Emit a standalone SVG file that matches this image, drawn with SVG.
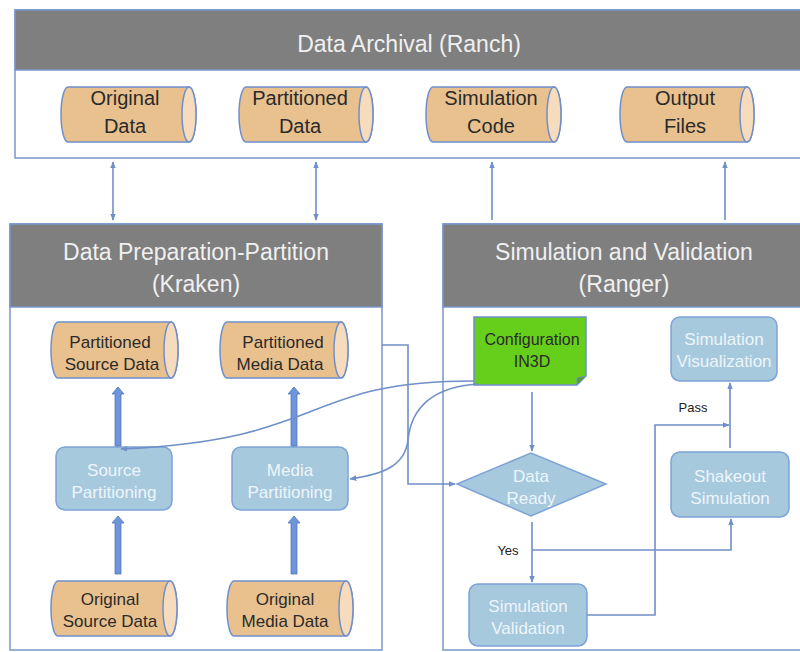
<svg xmlns="http://www.w3.org/2000/svg" width="800" height="652" viewBox="0 0 800 652">
<defs>
<style>
.panel{fill:#fff;stroke:#7896cc;stroke-width:1.5}
.hdr{fill:#7f7f7f;stroke:#7896cc;stroke-width:1.5}
.ttl{font-family:"Liberation Sans",Arial,sans-serif;font-size:23px;fill:#f0f0f0;text-anchor:middle}
.cyl{fill:#e9c18f;stroke:#6f8fcb;stroke-width:1.5}
.cap{fill:#f6dcbd;stroke:#6f8fcb;stroke-width:1.5}
.ct{font-family:"Liberation Sans",Arial,sans-serif;fill:#2a2a2a;text-anchor:middle}
.box{fill:#a6c9de;stroke:#7ea3d6;stroke-width:1.5}
.bt{font-family:"Liberation Sans",Arial,sans-serif;font-size:17px;fill:#eef5fa;text-anchor:middle}
.con{fill:none;stroke:#6f8fc8;stroke-width:1.6}
.thick{fill:#6f95d8;stroke:#5077c2;stroke-width:0.8}
.lbl{font-family:"Liberation Sans",Arial,sans-serif;font-size:13px;fill:#222;text-anchor:middle}
</style>
<marker id="ah" viewBox="0 0 10 10" refX="9" refY="5" markerWidth="7" markerHeight="7" orient="auto-start-reverse" markerUnits="userSpaceOnUse">
<path d="M0,1 L10,5 L0,9 Z" fill="#6f8fc8"/>
</marker>
</defs>

<g id="panel-ranch">
<rect class="panel" x="15" y="10" width="790" height="148"/>
<rect class="hdr" x="15" y="10" width="790" height="60"/>
<text class="ttl" x="409" y="52">Data Archival (Ranch)</text>
</g>
<g id="panel-kraken">
<rect class="panel" x="10" y="224" width="372" height="426"/>
<rect class="hdr" x="10" y="224" width="372" height="83"/>
<text class="ttl" x="196" y="260">Data Preparation-Partition</text>
<text class="ttl" x="196" y="292">(Kraken)</text>
</g>
<g id="panel-ranger">
<rect class="panel" x="443" y="224" width="362" height="426"/>
<rect class="hdr" x="443" y="224" width="362" height="83"/>
<text class="ttl" x="624" y="260">Simulation and Validation</text>
<text class="ttl" x="624" y="292">(Ranger)</text>
</g>

<g id="original-data">
<path class="cyl" d="M68,87 H189 A7,27.5 0 0 1 189,142 H68 A7,27.5 0 0 1 68,87 Z"/>
<ellipse class="cap" cx="189" cy="114.5" rx="7" ry="27.5"/>
<text class="ct" x="125" y="105" font-size="20">Original</text>
<text class="ct" x="125" y="133" font-size="20">Data</text>
</g>
<g id="partitioned-data">
<path class="cyl" d="M246,87 H366 A7,27.5 0 0 1 366,142 H246 A7,27.5 0 0 1 246,87 Z"/>
<ellipse class="cap" cx="366" cy="114.5" rx="7" ry="27.5"/>
<text class="ct" x="300" y="105" font-size="20">Partitioned</text>
<text class="ct" x="300" y="133" font-size="20">Data</text>
</g>
<g id="simulation-code">
<path class="cyl" d="M433,87 H554 A7,27.5 0 0 1 554,142 H433 A7,27.5 0 0 1 433,87 Z"/>
<ellipse class="cap" cx="554" cy="114.5" rx="7" ry="27.5"/>
<text class="ct" x="491" y="105" font-size="20">Simulation</text>
<text class="ct" x="491" y="133" font-size="20">Code</text>
</g>
<g id="output-files">
<path class="cyl" d="M627,87 H747 A7,27.5 0 0 1 747,142 H627 A7,27.5 0 0 1 627,87 Z"/>
<ellipse class="cap" cx="747" cy="114.5" rx="7" ry="27.5"/>
<text class="ct" x="685" y="105" font-size="20">Output</text>
<text class="ct" x="685" y="133" font-size="20">Files</text>
</g>

<g id="partitioned-source-data">
<path class="cyl" d="M58,322 H171 A7,28 0 0 1 171,378 H58 A7,28 0 0 1 58,322 Z"/>
<ellipse class="cap" cx="171" cy="350" rx="7" ry="28"/>
<text class="ct" x="110" y="348" font-size="17">Partitioned</text>
<text class="ct" x="112" y="370" font-size="17">Source Data</text>
</g>
<g id="partitioned-media-data">
<path class="cyl" d="M227,322 H341 A7,28 0 0 1 341,378 H227 A7,28 0 0 1 227,322 Z"/>
<ellipse class="cap" cx="341" cy="350" rx="7" ry="28"/>
<text class="ct" x="283" y="348" font-size="17">Partitioned</text>
<text class="ct" x="280" y="370" font-size="17">Media Data</text>
</g>
<g id="source-partitioning">
<rect class="box" x="56" y="447" width="116" height="63" rx="9"/>
<text class="bt" x="114" y="476">Source</text>
<text class="bt" x="114" y="498">Partitioning</text>
</g>
<g id="media-partitioning">
<rect class="box" x="232" y="447" width="116" height="63" rx="9"/>
<text class="bt" x="290" y="476">Media</text>
<text class="bt" x="290" y="498">Partitioning</text>
</g>
<g id="original-source-data">
<path class="cyl" d="M58,581 H170 A7,27.5 0 0 1 170,636 H58 A7,27.5 0 0 1 58,581 Z"/>
<ellipse class="cap" cx="170" cy="608.5" rx="7" ry="27.5"/>
<text class="ct" x="110" y="605" font-size="17">Original</text>
<text class="ct" x="110" y="627" font-size="17">Source Data</text>
</g>
<g id="original-media-data">
<path class="cyl" d="M234,581 H346 A7,27.5 0 0 1 346,636 H234 A7,27.5 0 0 1 234,581 Z"/>
<ellipse class="cap" cx="346" cy="608.5" rx="7" ry="27.5"/>
<text class="ct" x="285" y="605" font-size="17">Original</text>
<text class="ct" x="285" y="627" font-size="17">Media Data</text>
</g>

<g id="configuration-in3d">
<path d="M474,317 H586 V376 L577,385 H474 Z" fill="#66cf1c" stroke="#6f8fcb" stroke-width="1.5"/>
<path d="M586,376 L577,378 L577,385 Z" fill="#4e9e3a" stroke="#6f8fcb" stroke-width="1"/>
<text class="ct" x="532" y="345" font-size="16" fill="#111">Configuration</text>
<text class="ct" x="532" y="367" font-size="16" fill="#111">IN3D</text>
</g>
<g id="simulation-visualization">
<rect class="box" x="671" y="317" width="106" height="64" rx="9"/>
<text class="bt" x="724" y="345" font-size="16">Simulation</text>
<text class="bt" x="724" y="367" font-size="16">Visualization</text>
</g>
<g id="data-ready">
<polygon class="box" points="457,484 531,453 606,484 531,516"/>
<text class="bt" x="531" y="482" font-size="16">Data</text>
<text class="bt" x="531" y="504" font-size="16">Ready</text>
</g>
<g id="shakeout-simulation">
<rect class="box" x="671" y="452" width="118" height="65" rx="9"/>
<text class="bt" x="730" y="482">Shakeout</text>
<text class="bt" x="730" y="504">Simulation</text>
</g>
<g id="simulation-validation">
<rect class="box" x="469" y="584" width="118" height="62" rx="9"/>
<text class="bt" x="528" y="612">Simulation</text>
<text class="bt" x="528" y="634">Validation</text>
</g>

<g id="connectors">
<line class="con" x1="113" y1="162" x2="113" y2="220" marker-start="url(#ah)" marker-end="url(#ah)"/>
<line class="con" x1="316" y1="162" x2="316" y2="220" marker-start="url(#ah)" marker-end="url(#ah)"/>
<line class="con" x1="492" y1="220" x2="492" y2="162" marker-end="url(#ah)"/>
<line class="con" x1="725" y1="220" x2="725" y2="162" marker-end="url(#ah)"/>

<path class="thick" d="M115,574 V523 H112 L118,516 L124,523 H121 V574 Z"/>
<path class="thick" d="M115,446 V394 H112 L118,387 L124,394 H121 V446 Z"/>
<path class="thick" d="M291,574 V523 H288 L294,516 L300,523 H297 V574 Z"/>
<path class="thick" d="M291,446 V394 H288 L294,387 L300,394 H297 V446 Z"/>

<path class="con" d="M382,345 H408 V484 H455" marker-end="url(#ah)"/>
<path class="con" d="M474,381 C300,381 330,440 121,449" marker-end="url(#ah)"/>
<path class="con" d="M478,384 C420,388 410,420 408,440 C405,465 385,474 350,479" marker-end="url(#ah)"/>
<line class="con" x1="532" y1="392" x2="532" y2="451" marker-end="url(#ah)"/>
<line class="con" x1="532" y1="522" x2="532" y2="582" marker-end="url(#ah)"/>
<path class="con" d="M532,550 H731 V519" marker-end="url(#ah)"/>
<path class="con" d="M587,615 H655 V425 H729" marker-end="url(#ah)"/>
<line class="con" x1="730" y1="448" x2="730" y2="383" marker-end="url(#ah)"/>
<text class="lbl" x="508" y="555">Yes</text>
<text class="lbl" x="693" y="412">Pass</text>
</g>
</svg>
